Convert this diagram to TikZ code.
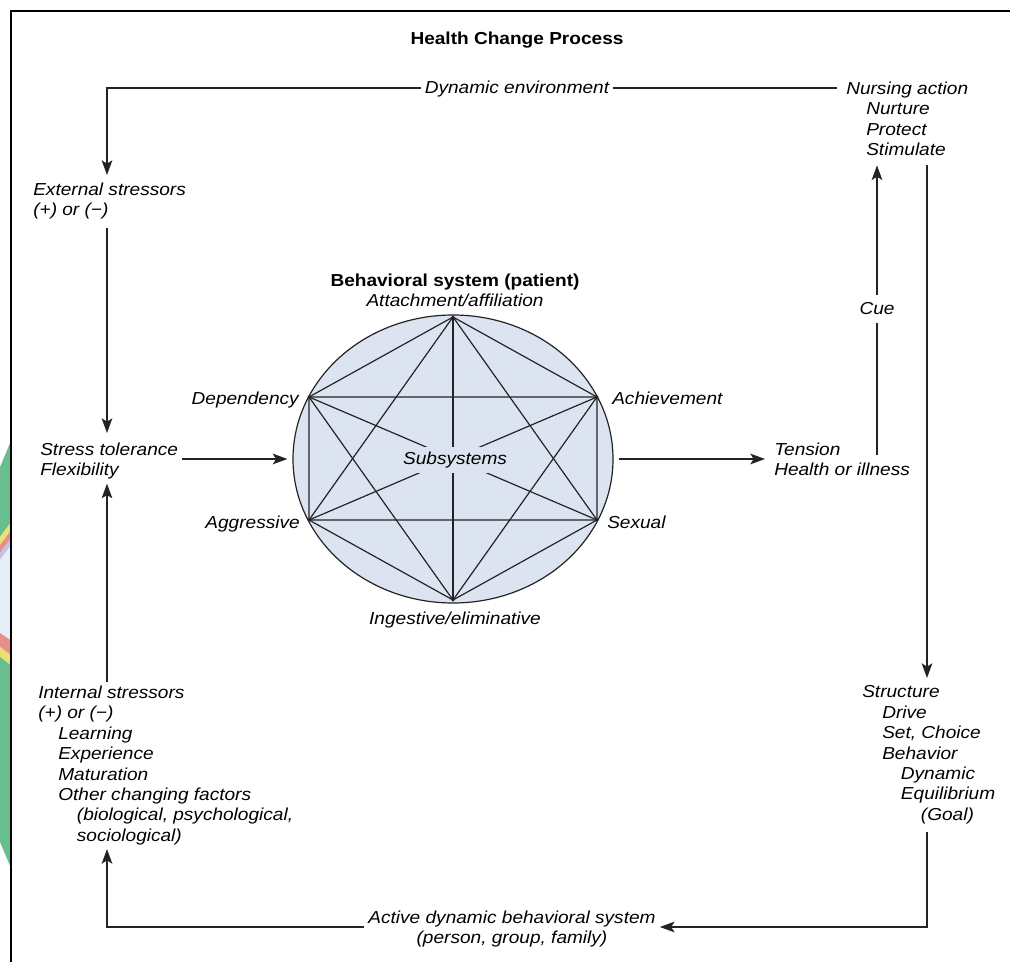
\documentclass[tikz,border=0pt]{standalone}
\usepackage{fontspec}
\setmainfont{Liberation Sans}[FakeStretch=1.1]
\usetikzlibrary{arrows.meta,shapes.geometric}

\definecolor{sysblue}{RGB}{221,228,241}
\definecolor{ink}{RGB}{35,35,35}
\definecolor{logogreen}{RGB}{104,190,142}
\definecolor{logoyellow}{RGB}{238,224,112}
\definecolor{logored}{RGB}{230,142,140}
\definecolor{logolilac}{RGB}{196,194,228}
\definecolor{logopale}{RGB}{230,238,246}

\tikzset{
  lbl/.style={inner sep=3pt,align=left},
  flow/.style={draw=ink,line width=1pt,-{Stealth[length=11pt,width=8pt,inset=2.5pt]}},
  wire/.style={draw=ink,line width=1pt},
  chord/.style={draw=ink,line width=0.9pt},
}

\begin{document}
\begin{tikzpicture}[x=0.75pt,y=0.75pt,yscale=-1,xscale=1,font=\fontsize{13}{15.3}\selectfont\itshape]
\useasboundingbox (0,0) rectangle (1010,962);

% Logo strip in the left margin
\fill[logogreen] (0,467) -- (10.5,442) -- (10.5,523) -- (0,537) -- cycle;
\fill[logoyellow] (0,537) -- (10.5,523) -- (10.5,531) -- (0,545) -- cycle;
\fill[logored] (0,545) -- (10.5,531) -- (10.5,539) -- (0,553) -- cycle;
\fill[logolilac] (0,553) -- (10.5,539) -- (10.5,546) -- (0,560) -- cycle;
\fill[logopale] (0,560) -- (10.5,546) -- (10.5,640) -- (0,633) -- cycle;
\fill[logored] (0,633) -- (10.5,640) -- (10.5,655) -- (0,647) -- cycle;
\fill[logoyellow] (0,647) -- (10.5,655) -- (10.5,665) -- (0,657) -- cycle;
\fill[logogreen] (0,657) -- (10.5,665) -- (10.5,867) -- (0,842) -- cycle;

% Frame
\draw[line width=1.1pt] (1010,11) -- (11,11) -- (11,962);

%Shape: Ellipse
\node[draw=ink,fill=sysblue,ellipse,line width=0.9pt,inner sep=0pt,minimum width=240pt,minimum height=216pt] (sys) at (453,459) {};

\coordinate (va) at (453,317);
\coordinate (vd) at (309,397);
\coordinate (vc) at (597,397);
\coordinate (vg) at (309,520);
\coordinate (vs) at (597,520);
\coordinate (vi) at (453,600);

%Straight Lines
\draw[chord] (va) -- (vc) -- (vs) -- (vi) -- (vg) -- (vd) -- cycle;
\draw[chord] (va) -- (vs) -- (vg) -- cycle;
\draw[chord] (vi) -- (vd) -- (vc) -- cycle;
\draw[chord] (va) -- (vi);
\draw[chord] (vc) -- (vg);
\draw[chord] (vd) -- (vs);
\fill[ink] (va) circle (1.6) (vc) circle (1.6) (vs) circle (1.6) (vi) circle (1.6) (vg) circle (1.6) (vd) circle (1.6);

% Text Node
\draw (455,460) node [fill=sysblue][inner sep=1pt,minimum height=19.5pt] (sub) {Subsystems};
% Text Node
\draw (517,45) node [anchor=base][inner sep=0.75pt,font=\fontsize{13}{15.3}\selectfont\bfseries] (title) {Health Change Process};
% Text Node
\draw (455,287) node [anchor=base][inner sep=0.75pt,font=\fontsize{13}{15.3}\selectfont\bfseries] (bsys) {Behavioral system (patient)};
% Text Node
\draw (455,307) node [anchor=base][inner sep=0.75pt] (attach) {Attachment/affiliation};
% Text Node
\draw (303,405) node [anchor=base east][lbl] (dep) {Dependency};
% Text Node
\draw (608,405) node [anchor=base west][lbl] (ach) {Achievement};
% Text Node
\draw (304,528) node [anchor=base east][lbl] (aggr) {Aggressive};
% Text Node
\draw (603,528) node [anchor=base west][lbl] (sex) {Sexual};
% Text Node
\draw (455,624) node [anchor=base][inner sep=0.75pt] (ingest) {Ingestive/eliminative};

% Text Node
\draw (517,94) node [anchor=base][lbl] (env) {Dynamic environment};
% Text Node
\draw (842,77.6) node [anchor=north west][lbl] (nurs) {Nursing action\\\hspace*{15pt}Nurture\\\hspace*{15pt}Protect\\\hspace*{15pt}Stimulate};
% Text Node
\draw (29,178.6) node [anchor=north west][lbl] (ext) {External stressors\\(+) or (−)};
% Text Node
\draw (36,438.6) node [anchor=north west][lbl] (stress) {Stress tolerance\\Flexibility};
% Text Node
\draw (34,681.6) node [anchor=north west][lbl] (intl) {Internal stressors\\(+) or (−)\\\hspace*{15pt}Learning\\\hspace*{15pt}Experience\\\hspace*{15pt}Maturation\\\hspace*{15pt}Other changing factors\\\hspace*{29pt}(biological, psychological,\\\hspace*{29pt}sociological)};
% Text Node
\draw (770,438.6) node [anchor=north west][lbl] (tension) {Tension\\Health or illness};
% Text Node
\draw (877,315) node [anchor=base][lbl,inner ysep=6pt] (cue) {Cue};
% Text Node
\draw (858,681.6) node [anchor=north west][lbl] (struct) {Structure\\\hspace*{15pt}Drive\\\hspace*{15pt}Set, Choice\\\hspace*{15pt}Behavior\\\hspace*{29pt}Dynamic\\\hspace*{29pt}Equilibrium\\\hspace*{44pt}(Goal)};
% Text Node
\draw (512,906.6) node [anchor=north][lbl,align=center] (act) {Active dynamic behavioral system\\(person, group, family)};

\coordinate (c1) at (107,88);
\coordinate (c2) at (927,927);
\coordinate (c3) at (107,927);

%Straight Lines [outer loop]
\draw[flow,shorten >=2.7pt] (env.west |- c1) -- (c1) -- (ext.north -| c1);
\draw[wire,shorten >=4pt] (env.east |- c1) -- (nurs.west |- c1);
\draw[flow,shorten <=3pt,shorten >=4.2pt] (ext.south -| c1) -- (stress.north -| c1);
\draw[flow] (intl.north -| c1) -- (stress.south -| c1);
\draw[flow] (act.west |- c3) -- (c3) -- (intl.south -| c3);
\draw[flow,shorten <=3pt] (struct.south -| c2) -- (c2) -- (act.east |- c2);
\draw[flow,shorten <=4pt,shorten >=2.7pt] (nurs.south -| c2) -- (struct.north -| c2);

%Straight Lines [through the system]
\draw[flow,shorten >=3.75pt] (stress.east |- sys.west) -- (sys.west);
\draw[flow,shorten <=3.75pt,shorten >=3.75pt] (sys.east) -- (sys.east -| tension.west);
\draw[wire,shorten <=3pt] (tension.center -| cue) -- (cue.south);
\draw[flow,shorten >=4pt] (cue.north) -- (nurs.south -| cue);

\end{tikzpicture}
\end{document}
